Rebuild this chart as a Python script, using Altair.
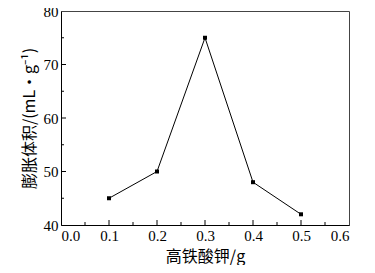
import altair as alt
import pandas as pd

mass = [0.1, 0.2, 0.3, 0.4, 0.5]
volume = [45, 50, 75, 48, 42]
x_major = [0.0, 0.1, 0.2, 0.3, 0.4, 0.5, 0.6]
x_minor = [0.05, 0.15, 0.25, 0.35, 0.45, 0.55]
y_major = [40, 50, 60, 70, 80]
y_minor = [45, 55, 65, 75]

df = pd.DataFrame({"m": mass, "v": volume})
FONT = "Liberation Serif"
W, H = 288, 214

xs = alt.Scale(domain=[0, 0.6], nice=False)
ys = alt.Scale(domain=[40, 80], nice=False)

xaxis = alt.Axis(values=x_major, format=".1f", title="高铁酸钾/g", titlePadding=5)
yaxis = alt.Axis(values=y_major, title="膨胀体积/(mL·g⁻¹)", titlePadding=6)

base = alt.Chart(df)
line = base.mark_line(color="black", strokeWidth=1).encode(
    x=alt.X("m:Q", scale=xs, axis=xaxis),
    y=alt.Y("v:Q", scale=ys, axis=yaxis),
)
pts = base.mark_square(color="black", size=16, opacity=1).encode(
    x=alt.X("m:Q", scale=xs, axis=xaxis), y=alt.Y("v:Q", scale=ys, axis=yaxis))

xmaj = alt.Chart(pd.DataFrame({"t": x_major[1:-1]})).mark_rule(color="black", strokeWidth=1).encode(
    x=alt.X("t:Q", scale=xs, axis=xaxis), y=alt.value(H), y2=alt.value(H - 5))
xmin = alt.Chart(pd.DataFrame({"t": x_minor})).mark_rule(color="black", strokeWidth=1).encode(
    x=alt.X("t:Q", scale=xs, axis=xaxis), y=alt.value(H), y2=alt.value(H - 3))
ymaj = alt.Chart(pd.DataFrame({"t": y_major[1:-1]})).mark_rule(color="black", strokeWidth=1).encode(
    y=alt.Y("t:Q", scale=ys, axis=yaxis), x=alt.value(0), x2=alt.value(5))
ymin = alt.Chart(pd.DataFrame({"t": y_minor})).mark_rule(color="black", strokeWidth=1).encode(
    y=alt.Y("t:Q", scale=ys, axis=yaxis), x=alt.value(0), x2=alt.value(3))

chart = alt.layer(line, pts, xmin, xmaj, ymin, ymaj).properties(
    width=W, height=H,
    autosize=alt.AutoSizeParams(type="none"),
    padding={"left": 53, "top": 3, "right": 18, "bottom": 40},
).configure(
    background="white",
    axis=alt.AxisConfig(
        tickSize=0, labelPadding=3, labelFont=FONT, labelFontSize=15, labelColor="black",
        titleFont="Noto Sans CJK SC", titleFontWeight="normal", titleFontSize=16,
        titleColor="black", domainColor="black", grid=False,
    ),
    view=alt.ViewConfig(stroke="#444444", strokeWidth=1),
)

chart.save("out.html", embed_options={"renderer": "svg", "actions": False})
